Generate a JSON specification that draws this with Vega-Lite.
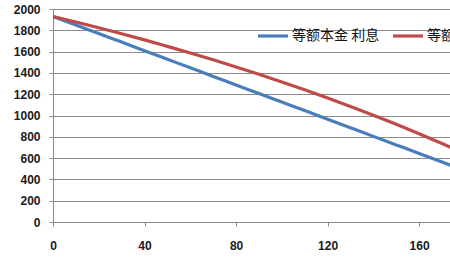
{
  "$schema": "https://vega.github.io/schema/vega-lite/v6.json",
  "width": 397,
  "height": 213,
  "autosize": {"type": "none"},
  "padding": {"left": 53, "top": 9, "right": 0, "bottom": 43},
  "background": "white",
  "config": {
    "view": {"stroke": null},
    "font": "Liberation Sans"
  },
  "data": {
    "values": [
      {"x": 0, "v": 1930, "s": "等额本金 利息"},
      {"x": 10, "v": 1850, "s": "等额本金 利息"},
      {"x": 20, "v": 1769, "s": "等额本金 利息"},
      {"x": 30, "v": 1689, "s": "等额本金 利息"},
      {"x": 40, "v": 1608, "s": "等额本金 利息"},
      {"x": 50, "v": 1528, "s": "等额本金 利息"},
      {"x": 60, "v": 1448, "s": "等额本金 利息"},
      {"x": 70, "v": 1367, "s": "等额本金 利息"},
      {"x": 80, "v": 1287, "s": "等额本金 利息"},
      {"x": 90, "v": 1206, "s": "等额本金 利息"},
      {"x": 100, "v": 1126, "s": "等额本金 利息"},
      {"x": 110, "v": 1046, "s": "等额本金 利息"},
      {"x": 120, "v": 965, "s": "等额本金 利息"},
      {"x": 130, "v": 885, "s": "等额本金 利息"},
      {"x": 140, "v": 804, "s": "等额本金 利息"},
      {"x": 150, "v": 724, "s": "等额本金 利息"},
      {"x": 160, "v": 644, "s": "等额本金 利息"},
      {"x": 170, "v": 563, "s": "等额本金 利息"},
      {"x": 180, "v": 483, "s": "等额本金 利息"},
      {"x": 0, "v": 1930, "s": "等额本息 利息"},
      {"x": 10, "v": 1878, "s": "等额本息 利息"},
      {"x": 20, "v": 1824, "s": "等额本息 利息"},
      {"x": 30, "v": 1768, "s": "等额本息 利息"},
      {"x": 40, "v": 1710, "s": "等额本息 利息"},
      {"x": 50, "v": 1649, "s": "等额本息 利息"},
      {"x": 60, "v": 1587, "s": "等额本息 利息"},
      {"x": 70, "v": 1523, "s": "等额本息 利息"},
      {"x": 80, "v": 1456, "s": "等额本息 利息"},
      {"x": 90, "v": 1387, "s": "等额本息 利息"},
      {"x": 100, "v": 1315, "s": "等额本息 利息"},
      {"x": 110, "v": 1241, "s": "等额本息 利息"},
      {"x": 120, "v": 1164, "s": "等额本息 利息"},
      {"x": 130, "v": 1085, "s": "等额本息 利息"},
      {"x": 140, "v": 1003, "s": "等额本息 利息"},
      {"x": 150, "v": 917, "s": "等额本息 利息"},
      {"x": 160, "v": 829, "s": "等额本息 利息"},
      {"x": 170, "v": 738, "s": "等额本息 利息"},
      {"x": 180, "v": 643, "s": "等额本息 利息"}
    ]
  },
  "mark": {"type": "line", "strokeWidth": 3.2, "clip": true, "interpolate": "monotone"},
  "encoding": {
    "x": {
      "field": "x",
      "type": "quantitative",
      "scale": {"domain": [0, 173.5], "nice": false, "zero": false},
      "axis": {
        "title": null,
        "values": [0, 40, 80, 120, 160],
        "format": "d",
        "grid": false,
        "domainColor": "#888888",
        "tickColor": "#888888",
        "tickSize": 4,
        "labelPadding": 14,
        "labelFontSize": 12,
        "labelFontWeight": "bold",
        "labelColor": "#1a1a1a",
        "labelFlush": false
      }
    },
    "y": {
      "field": "v",
      "type": "quantitative",
      "scale": {"domain": [0, 2000], "nice": false},
      "axis": {
        "title": null,
        "values": [0, 200, 400, 600, 800, 1000, 1200, 1400, 1600, 1800, 2000],
        "format": "d",
        "grid": true,
        "gridColor": "#8c8c8c",
        "gridWidth": 1,
        "domainColor": "#888888",
        "tickColor": "#888888",
        "tickSize": 4,
        "labelPadding": 9,
        "labelFontSize": 12,
        "labelFontWeight": "bold",
        "labelColor": "#1a1a1a"
      }
    },
    "color": {
      "field": "s",
      "type": "nominal",
      "scale": {"domain": ["等额本金 利息", "等额本息 利息"], "range": ["#4A7EBB", "#BE4B48"]},
      "legend": {
        "title": null,
        "orient": "none",
        "legendX": 203,
        "legendY": 10,
        "direction": "horizontal",
        "symbolType": "stroke",
        "symbolSize": 900,
        "symbolStrokeWidth": 3.2,
        "labelFont": "Noto Sans CJK SC",
        "labelFontSize": 14,
        "labelColor": "#111111",
        "labelLimit": 300,
        "labelOffset": 2,
        "columnPadding": 6
      }
    }
  }
}
